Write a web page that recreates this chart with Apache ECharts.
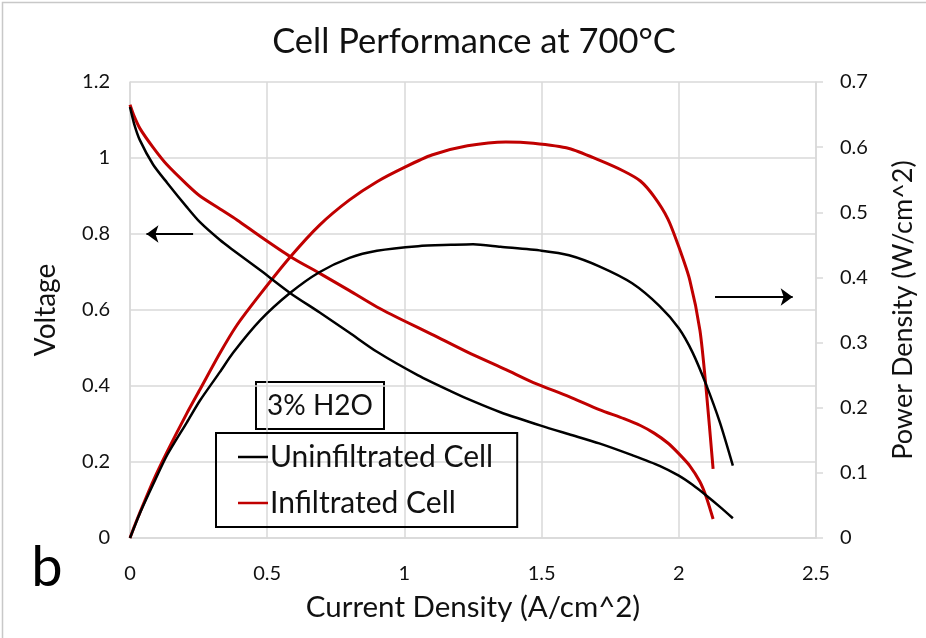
<!DOCTYPE html>
<html>
<head>
<meta charset="utf-8">
<script src="https://cdn.jsdelivr.net/npm/echarts@6/dist/echarts.min.js"></script>
<style>
  html, body { margin: 0; padding: 0; background: #ffffff; }
  #chart { width: 926px; height: 638px; }
</style>
</head>
<body>
<div id="chart"></div>
<script>
// Current density (A/cm^2) and measured voltage / power density, uninfiltrated cell
const currentUninf = [0, 0.015, 0.036, 0.084, 0.135, 0.208, 0.255, 0.328, 0.375, 0.474, 0.583, 0.69, 0.8, 0.9, 1.05, 1.17, 1.25, 1.35, 1.5, 1.6, 1.71, 1.83, 1.93, 2.0, 2.05, 2.1, 2.15, 2.197];
const voltageUninf = [1.134, 1.09, 1.047, 0.983, 0.935, 0.87, 0.831, 0.784, 0.758, 0.705, 0.645, 0.594, 0.54, 0.49, 0.428, 0.386, 0.36, 0.331, 0.295, 0.273, 0.249, 0.218, 0.19, 0.164, 0.14, 0.112, 0.082, 0.052];
const powerUninf   = [0, 0.016, 0.038, 0.082, 0.127, 0.178, 0.211, 0.255, 0.284, 0.334, 0.376, 0.408, 0.43, 0.441, 0.448, 0.45, 0.451, 0.447, 0.441, 0.434, 0.417, 0.391, 0.356, 0.322, 0.285, 0.235, 0.177, 0.111];

// Infiltrated cell
const currentInf = [0, 0.015, 0.036, 0.084, 0.135, 0.208, 0.255, 0.328, 0.39, 0.474, 0.583, 0.69, 0.8, 0.9, 1.0, 1.1, 1.23, 1.37, 1.47, 1.6, 1.71, 1.8, 1.86, 1.91, 1.96, 2.0, 2.04, 2.077, 2.1, 2.125];
const voltageInf = [1.14, 1.11, 1.078, 1.028, 0.982, 0.93, 0.9, 0.866, 0.837, 0.794, 0.741, 0.697, 0.651, 0.608, 0.571, 0.536, 0.489, 0.443, 0.409, 0.372, 0.338, 0.314, 0.296, 0.276, 0.25, 0.222, 0.19, 0.148, 0.108, 0.05];
const powerInf   = [0, 0.017, 0.039, 0.087, 0.132, 0.192, 0.228, 0.284, 0.327, 0.374, 0.431, 0.48, 0.519, 0.547, 0.569, 0.588, 0.602, 0.608, 0.606, 0.598, 0.58, 0.563, 0.548, 0.524, 0.49, 0.447, 0.396, 0.319, 0.227, 0.106];

// Axis ticks
const currentTicks = [0, 0.5, 1, 1.5, 2, 2.5];
const voltageTicks = [0, 0.2, 0.4, 0.6, 0.8, 1, 1.2];
const powerTicks   = [0, 0.1, 0.2, 0.3, 0.4, 0.5, 0.6, 0.7];

const seriesNames = ['Uninfiltrated Cell', 'Infiltrated Cell'];
const seriesColors = ['#000000', '#c00000'];

// Direction arrows: which curves belong to which axis
const voltageArrow = [[0.23, 0.8], [0.06, 0.8]];
const powerArrow = [[2.132, 0.37], [2.415, 0.37]];

const FONT = 'Lato, "Liberation Sans", sans-serif';
const GRID_COLOR = '#d9d9d9';

function pairs(xs, ys) { return xs.map((x, i) => [x, ys[i]]); }
function step(ticks) { return +(ticks[1] - ticks[0]).toFixed(6); }

function arrowLine(pts) {
  return {
    silent: true,
    animation: false,
    symbol: ['none', 'arrow'],
    symbolSize: [13, 12],
    label: { show: false },
    lineStyle: { color: '#000000', width: 2.2, type: 'solid' },
    emphasis: { disabled: true },
    data: [[{ coord: pts[0] }, { coord: pts[1] }]]
  };
}

function lineSeries(name, color, width, data, yAxisIndex, extra) {
  return Object.assign({
    name: name,
    type: 'line',
    yAxisIndex: yAxisIndex,
    data: data,
    smooth: 0.25,
    showSymbol: false,
    symbol: 'none',
    lineStyle: { color: color, width: width, join: 'round', cap: 'butt' },
    itemStyle: { color: color },
    emphasis: { disabled: true },
    z: color === '#c00000' ? 3 : 4
  }, extra || {});
}

const chart = echarts.init(document.getElementById('chart'), null, { renderer: 'canvas' });

chart.setOption({
  animation: false,
  backgroundColor: '#ffffff',
  textStyle: { fontFamily: FONT },
  grid: { left: 130, right: 110, top: 82, bottom: 100, containLabel: false },
  legend: {
    orient: 'vertical',
    left: 216,
    top: 433,
    data: seriesNames.map((n, i) => ({ name: n, icon: 'rect', itemStyle: { color: seriesColors[i] } })),
    itemWidth: 30,
    itemHeight: 2.5,
    itemGap: 14,
    padding: [8, 24, 8, 22],
    borderColor: '#000000',
    borderWidth: 2,
    selectedMode: false,
    textStyle: { fontFamily: FONT, fontSize: 30, color: '#111111', lineHeight: 32, padding: [0, 0, 0, -3] }
  },
  xAxis: {
    type: 'value',
    min: currentTicks[0],
    max: currentTicks[currentTicks.length - 1],
    interval: step(currentTicks),
    name: 'Current Density (A/cm^2)',
    nameLocation: 'middle',
    nameGap: 54,
    nameTextStyle: { fontFamily: FONT, fontSize: 29.5, color: '#111111' },
    axisLine: { show: true, lineStyle: { color: GRID_COLOR, width: 1.5 } },
    axisTick: { show: false },
    axisLabel: { fontFamily: FONT, fontSize: 20, color: '#111111', margin: 26 },
    splitLine: { show: true, lineStyle: { color: GRID_COLOR, width: 1.5 } }
  },
  yAxis: [
    {
      type: 'value',
      position: 'left',
      min: voltageTicks[0],
      max: voltageTicks[voltageTicks.length - 1],
      interval: step(voltageTicks),
      name: 'Voltage',
      nameLocation: 'middle',
      nameRotate: 90,
      nameGap: 70,
      nameTextStyle: { fontFamily: FONT, fontSize: 28, color: '#111111' },
      axisLine: { show: true, lineStyle: { color: GRID_COLOR, width: 1.5 } },
      axisTick: { show: false },
      axisLabel: { fontFamily: FONT, fontSize: 20, color: '#111111', margin: 20 },
      splitLine: { show: true, lineStyle: { color: GRID_COLOR, width: 1.5 } }
    },
    {
      type: 'value',
      position: 'right',
      min: powerTicks[0],
      max: powerTicks[powerTicks.length - 1],
      interval: step(powerTicks),
      name: 'Power Density (W/cm^2)',
      nameLocation: 'middle',
      nameRotate: 90,
      nameGap: 74,
      nameTextStyle: { fontFamily: FONT, fontSize: 27, color: '#111111' },
      axisLine: { show: true, lineStyle: { color: GRID_COLOR, width: 1.5 } },
      axisTick: { show: true, length: 7, lineStyle: { color: GRID_COLOR, width: 1.5 } },
      axisLabel: { fontFamily: FONT, fontSize: 20, color: '#111111', margin: 24 },
      splitLine: { show: false }
    }
  ],
  series: [
    lineSeries(seriesNames[0], seriesColors[0], 2.5, pairs(currentUninf, voltageUninf), 0, { markLine: arrowLine(voltageArrow) }),
    lineSeries(seriesNames[1], seriesColors[1], 3, pairs(currentInf, voltageInf), 0),
    lineSeries(seriesNames[0], seriesColors[0], 2.5, pairs(currentUninf, powerUninf), 1, { markLine: arrowLine(powerArrow) }),
    lineSeries(seriesNames[1], seriesColors[1], 3, pairs(currentInf, powerInf), 1)
  ],
  graphic: [
    // light frame around the figure
    { type: 'rect', silent: true, z: 0, shape: { x: 2.5, y: 2.5, width: 940, height: 660 },
      style: { fill: 'none', stroke: '#c8c8c8', lineWidth: 1.5 } },
    // chart title
    { type: 'text', silent: true, x: 474, y: 42,
      style: { text: 'Cell Performance at 700°C', font: '34.5px ' + FONT, fill: '#111111', align: 'center', verticalAlign: 'middle' } },
    // gas condition tag
    { type: 'group', left: 255, top: 381, silent: true, children: [
      { type: 'rect', shape: { x: 0, y: 0, width: 128, height: 47 },
        style: { fill: '#ffffff', stroke: '#000000', lineWidth: 2 } },
      { type: 'text', x: 64, y: 24,
        style: { text: '3% H2O', font: '28px ' + FONT, fill: '#111111', align: 'center', verticalAlign: 'middle' } }
    ] },
    // panel letter
    { type: 'text', silent: true, x: 47, y: 568,
      style: { text: 'b', font: '56px ' + FONT, fill: '#000000', align: 'center', verticalAlign: 'middle' } }
  ]
});
</script>
</body>
</html>
